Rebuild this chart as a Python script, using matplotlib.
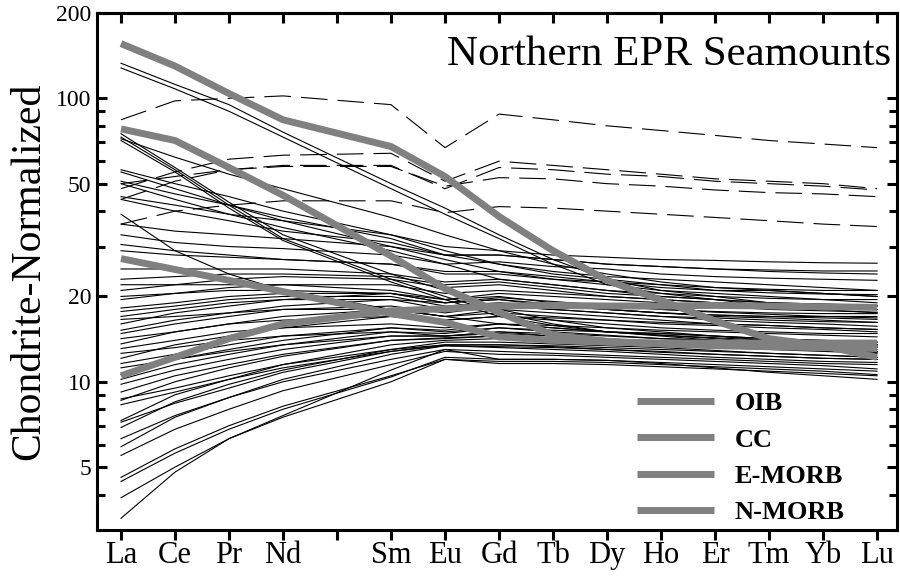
import matplotlib
matplotlib.use('Agg')
import matplotlib.pyplot as plt
import numpy as np
from matplotlib.ticker import FixedLocator, NullFormatter

plt.rcParams['font.family'] = ['Liberation Serif', 'DejaVu Serif']

# REE order and atomic numbers (Pm left out of the data, kept as a gap)
ree = ['La', 'Ce', 'Pr', 'Nd', 'Sm', 'Eu', 'Gd', 'Tb', 'Dy', 'Ho', 'Er', 'Tm', 'Yb', 'Lu']
atomic_number = [57, 58, 59, 60, 62, 63, 64, 65, 66, 67, 68, 69, 70, 71]
tick_numbers = list(range(57, 72))
tick_labels = ['La', 'Ce', 'Pr', 'Nd', '', 'Sm', 'Eu', 'Gd', 'Tb', 'Dy', 'Ho', 'Er', 'Tm', 'Yb', 'Lu']

# reference compositions (chondrite-normalized)
oib = [156, 130, 104, 84, 67.6, 53, 38.3, 29, 22.8, 19.4, 16.4, 14.2, 13.4, 12.2]
cc = [78, 71, 57, 45.5, 27.8, 21.3, 17.6, 14.6, 13.9, 13.6, 13.4, 13.3, 13.2, 13.1]
emorb = [27.2, 24.9, 22.8, 20.8, 17.4, 16.2, 14.4, 14.0, 13.8, 13.7, 13.7, 13.7, 13.7, 13.7]
nmorb = [10.5, 12.2, 14.2, 16, 17.8, 18.1, 18.5, 18.6, 18.5, 18.5, 18.6, 18.5, 18.4, 18.3]
ref_names = ['OIB', 'CC', 'E-MORB', 'N-MORB']

# samples drawn dashed
dashed_samples = [
    [84, 98, 100, 102, 95, 67, 88, 84, 80, 77, 74, 71, 69, 67],
    [48, 55, 61, 63, 64, 51, 60, 58, 56, 54, 52, 51, 50, 48],
    [44, 51, 56, 58, 58, 48, 57, 56, 54, 53, 51, 50, 49, 47.5],
    [50, 53, 56, 57.5, 57.5, 49, 52.5, 52, 50, 49, 47.5, 46.5, 46, 45],
    [36, 40, 42, 43.5, 43.5, 39.5, 41.5, 41, 40, 39, 38, 37, 36, 35.3],
]

# samples drawn solid
solid_samples = [
    [133, 112, 95, 76, 50, 41, 33, 27, 23, 21, 20, 19, 18.5, 18],
    [128, 108, 90, 73, 48, 39, 32, 26, 22, 20.5, 19.5, 18.5, 18, 17.5],
    [75, 57, 43, 33, 24, 21, 18, 16.5, 15.5, 15, 14.5, 14, 13.8, 13.5],
    [73, 56, 42, 32, 23, 20, 17.5, 16, 15, 14.5, 14, 13.7, 13.4, 13.2],
    [71, 55, 41, 31.5, 22.5, 19.5, 17, 15.8, 15, 14.6, 14.2, 13.8, 13.5, 13.3],
    [72, 62, 54, 48, 38, 33, 29, 26, 24, 22.5, 21.5, 21, 20.5, 20],
    [56, 50, 45, 40, 33, 29, 26, 24, 23, 22, 21, 21, 20.5, 20],
    [55, 48, 42, 37, 30, 27, 24.5, 23, 22, 21, 20.5, 20, 19.5, 19],
    [51, 46, 42, 38, 32, 28, 26, 24.5, 23.5, 23, 22.5, 22, 21.5, 21],
    [50, 44, 39, 35, 29, 26, 23, 22, 21, 20, 19.5, 19, 18.8, 18.5],
    [39, 29, 24, 21, 18, 17, 16, 15.5, 15, 14.8, 14.5, 14.2, 14, 13.8],
    [45, 42, 39, 37, 33, 30, 29, 28, 27.5, 27, 26.8, 26.5, 26.3, 26.2],
    [44, 40, 37, 34, 31, 28, 28, 27, 26, 25.5, 25, 24.8, 24.6, 24.6],
    [36, 34, 33, 32, 30, 28, 28, 27, 26, 25.5, 25, 24.5, 24.2, 24],
    [33, 31, 30, 29.5, 28, 26, 26.5, 25.5, 25, 24, 23.5, 23.2, 23, 22.8],
    [30.5, 29, 28, 27, 26, 24, 24, 23, 22.5, 22, 21.5, 21.2, 21, 21],
    [29, 28, 27.5, 27, 26, 24.5, 24.5, 23.5, 22.5, 21.5, 21, 20.6, 20.4, 20.3],
    [25, 25, 25, 25, 24, 22.5, 23, 22, 21, 20.5, 20, 19.7, 19.5, 19.5],
    [23, 23.5, 24, 24, 23.5, 22, 22.5, 21.5, 20.5, 20, 19.5, 19, 18.8, 18.6],
    [22, 22, 22, 22, 21, 19.5, 20, 19, 18.5, 18, 17.7, 17.5, 17.4, 17.4],
    [21, 22, 23, 23.5, 23, 21.5, 22, 21, 20, 19.5, 19, 18.5, 18.2, 18],
    [20, 20.5, 21, 21, 20.5, 19, 19.5, 18.8, 18, 17.5, 17.2, 17, 16.8, 16.6],
    [18.2, 19, 20, 20.5, 20.5, 19, 19.5, 18.5, 18, 17.5, 17, 16.8, 16.5, 16.2],
    [17.7, 18.5, 19.5, 20, 20, 18.5, 19, 18.5, 18, 17.5, 17.2, 17, 17, 17],
    [17, 18, 19, 19.5, 19.5, 18, 18.5, 18, 17.5, 17, 16.5, 16.2, 16, 15.7],
    [16.6, 17, 17.5, 18, 18, 17, 17.5, 17, 16.5, 16.2, 16, 15.8, 15.5, 15.3],
    [14.8, 16, 17, 18, 18.5, 17.5, 18.5, 18, 17.5, 17, 16.8, 16.5, 16.3, 16.2],
    [14.2, 15, 16, 16.5, 17, 16.5, 17, 16.5, 16, 15.5, 15.2, 15, 14.8, 14.8],
    [13.6, 15, 16, 17, 18, 17, 18, 17.5, 17, 16.5, 16, 15.8, 15.5, 15.3],
    [13.1, 14, 15, 15.5, 16, 15.5, 16, 15.5, 15, 14.6, 14.3, 14, 13.8, 13.5],
    [12.1, 13.5, 14.5, 15.5, 17, 16.5, 17, 16.8, 16.5, 16, 15.8, 15.5, 15.3, 15],
    [11.6, 12.5, 13.5, 14.5, 15.5, 15, 15.5, 15, 14.6, 14.2, 14, 13.8, 13.6, 13.5],
    [10.6, 12, 13, 14, 15.5, 15.2, 16, 15.8, 15.5, 15.2, 15, 14.8, 14.6, 14.4],
    [19.5, 20.5, 21.5, 22, 22, 20.5, 21, 20.5, 20, 19.5, 19, 18.8, 18.6, 18.5],
    [16, 17.5, 18.5, 19.5, 20.5, 19.5, 20.5, 20, 19.5, 19, 18.5, 18, 17.8, 17.6],
    [15.2, 16.5, 17.5, 18.5, 19.5, 19, 19.8, 19.2, 18.6, 18, 17.6, 17.3, 17, 16.8],
    [12.6, 13.2, 14, 14.5, 15, 14.5, 15, 14.5, 14, 13.7, 13.4, 13.2, 13, 12.8],
    [11.2, 12, 12.8, 13.5, 14.5, 14.5, 14.8, 14.5, 14.2, 13.8, 13.5, 13.3, 13.1, 13],
    [10.2, 11.5, 12.5, 13.5, 15, 14.8, 15.5, 15.2, 15, 14.8, 14.5, 14.2, 14, 13.8],
    [9.8, 11, 12, 13, 14.5, 14.5, 15, 14.8, 14.5, 14.2, 14, 13.8, 13.6, 13.5],
    [9.2, 10.5, 11.5, 12.5, 14, 14.2, 14.5, 14.2, 14, 13.8, 13.5, 13.2, 13, 12.8],
    [8.7, 9.5, 10.5, 11.5, 13, 13.5, 13.5, 13.3, 13, 12.7, 12.5, 12.3, 12.1, 12],
    [8.6, 10, 11.2, 12.3, 14, 14.3, 14.5, 14.3, 14, 13.7, 13.4, 13.1, 12.9, 12.7],
    [8.3, 9.2, 10.2, 11.2, 12.8, 13.4, 13.2, 13, 12.8, 12.5, 12.2, 12, 11.8, 11.7],
    [7.3, 9, 10.2, 11.5, 13.5, 14, 14.2, 14, 13.8, 13.5, 13.2, 13, 12.8, 12.6],
    [7.2, 8.4, 9.5, 10.8, 12.8, 13.5, 13.5, 13.4, 13.2, 13, 12.8, 12.6, 12.4, 12.2],
    [6.9, 8.5, 9.8, 11, 13, 13.8, 13.8, 13.6, 13.4, 13.2, 12.9, 12.6, 12.4, 12.2],
    [6.3, 7.6, 8.8, 10, 12, 13, 12.8, 12.6, 12.4, 12.2, 12, 11.8, 11.6, 11.5],
    [5.9, 7.5, 8.8, 10.2, 12.5, 13.4, 13.3, 13.2, 13, 12.8, 12.5, 12.3, 12.1, 12],
    [5.5, 6.8, 8, 9.3, 11.5, 12.8, 12.5, 12.4, 12.2, 12, 11.8, 11.6, 11.4, 11.1],
    [4.6, 5.8, 7, 8.2, 10.5, 12, 11.8, 11.8, 11.7, 11.5, 11.3, 11.1, 10.9, 10.6],
    [4.45, 5.6, 6.8, 8, 10.4, 12.2, 12, 12, 11.9, 11.7, 11.5, 11.3, 11.1, 10.9],
    [3.9, 5.0, 6.3, 7.5, 10.0, 12.0, 11.6, 11.6, 11.5, 11.3, 11.1, 10.9, 10.7, 10.5],
    [3.3, 4.8, 6.3, 7.6, 11, 13, 12, 12, 11.9, 11.6, 11.2, 10.8, 10.5, 10.2],
]

y_major = [5, 10, 20, 50, 100, 200]
y_minor = [3, 4, 6, 7, 8, 9, 30, 40, 60, 70, 80, 90]

fig = plt.figure(figsize=(9, 5.81), dpi=100)
ax = fig.add_axes([0.1078, 0.0878, 0.8889, 0.8898])

x = np.array(atomic_number)
for s in solid_samples:
    ax.plot(x, s, color='black', lw=0.8, zorder=2)
for s in dashed_samples:
    ax.plot(x, s, color='black', lw=0.8, linestyle=(0, (24, 9)), zorder=2)
for name, vals in zip(ref_names, [oib, cc, emorb, nmorb]):
    ax.plot(x, vals, color='#808080', lw=5, label=name, zorder=3,
            solid_capstyle='butt', solid_joinstyle='round')

ax.set_yscale('log')
ax.set_ylim(3, 200)
ax.set_xlim(56.556, 71.37)

ax.yaxis.set_major_locator(FixedLocator(y_major))
ax.yaxis.set_minor_locator(FixedLocator(y_minor))
ax.set_yticklabels([str(v) for v in y_major], fontsize=17)
ax.yaxis.set_minor_formatter(NullFormatter())
ax.tick_params(axis='y', which='both', direction='in', left=True, right=True, width=2.2)
ax.tick_params(axis='y', which='major', length=7.2, pad=4)
ax.tick_params(axis='y', which='minor', length=5.5)

ax.set_xticks(tick_numbers)
ax.set_xticklabels(tick_labels, fontsize=22)
ax.tick_params(axis='x', which='both', direction='out', length=7.2, width=2.2, pad=1)
ax.xaxis.set_minor_locator(FixedLocator([]))

top = ax.secondary_xaxis('top')
top.set_xticks(tick_numbers)
top.set_xticklabels([])
top.tick_params(direction='in', length=7.2, width=2.2)

for sp in ax.spines.values():
    sp.set_linewidth(2.2)
top.spines['top'].set_linewidth(2.2)

ax.set_ylabel('Chondrite-Normalized', fontsize=30, labelpad=6)

ax.text(0.992, 0.92, 'Northern EPR Seamounts', transform=ax.transAxes,
        ha='right', va='center', fontsize=31)

leg = ax.legend(loc='upper left', bbox_to_anchor=(637 / 900, 1 - 392 / 581),
                bbox_transform=fig.transFigure, frameon=False, borderpad=0,
                borderaxespad=0, handlelength=2.9, handletextpad=0.8,
                labelspacing=0.48, prop={'weight': 'bold', 'size': 19})

fig.savefig('out.png', dpi=100)
